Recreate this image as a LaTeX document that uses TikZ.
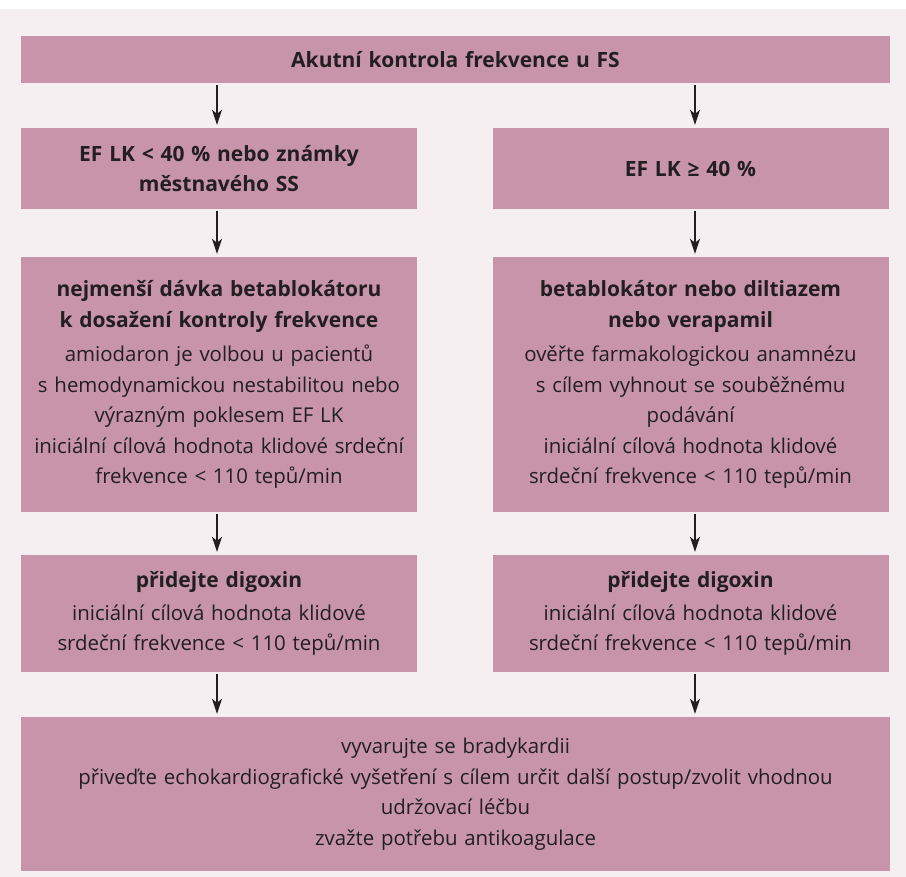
\documentclass[tikz,border=0pt]{standalone}
\usepackage{fontspec}
\setmainfont{Open Sans}
\newfontfamily\symf{DejaVu Sans}
\usetikzlibrary{arrows.meta,calc}
\definecolor{boxc}{RGB}{199,148,170}
\definecolor{bgc}{RGB}{245,239,242}
\definecolor{txtc}{RGB}{35,31,32}
\newcommand\geqsym{\iffontchar\font"2265 ≥\else{\symf ≥}\fi}
\newcommand\bt[1]{{\fontsize{21}{30.5}\selectfont\bfseries #1}}
\tikzset{
  flowbox/.style={fill=boxc, inner sep=0pt, text=txtc, align=center,
    font=\fontsize{20.4}{30.5}\selectfont},
  narrowbox/.style={flowbox, minimum width=396, text width=392},
  widebox/.style={flowbox, minimum width=869, text width=860},
  arr/.style={draw=txtc, line width=1.2pt,
    -{Stealth[length=15pt,width=10pt,inset=4pt]}, shorten <=1.5pt, shorten >=3pt}
}
\begin{document}
\begin{tikzpicture}[x=1pt,y=-1pt]
\useasboundingbox (0,0) rectangle (906,877);
\fill[white] (0,0) rectangle (906,877);
\fill[bgc] (0,9) rectangle (906,877);

\node[widebox, minimum height=47] (top) at (455.5,59.5)
  {\bt{Akutní kontrola frekvence u FS}};

\node[narrowbox, minimum height=81] (L2) at (219,168.5)
  {\bt{EF LK < 40 \% nebo známky}\\\bt{městnavého SS}};
\node[narrowbox, minimum height=81] (R2) at (690.5,168.5)
  {\bt{EF LK \geqsym{} 40 \%}};

\node[narrowbox, minimum height=255] (L3) at (219,384.5)
  {\bt{nejmenší dávka betablokátoru}\\\bt{k dosažení kontroly frekvence}\\[4pt]
   amiodaron je volbou u pacientů\\s hemodynamickou nestabilitou nebo\\výrazným poklesem EF LK\\
   iniciální cílová hodnota klidové srdeční\\frekvence < 110 tepů/min};
\node[narrowbox, minimum height=255] (R3) at (690.5,384.5)
  {\bt{betablokátor nebo diltiazem}\\\bt{nebo verapamil}\\[4pt]
   ověřte farmakologickou anamnézu\\s cílem vyhnout se souběžnému\\podávání\\
   iniciální cílová hodnota klidové\\srdeční frekvence < 110 tepů/min};

\node[narrowbox, minimum height=117] (L4) at (219,613.5)
  {\bt{přidejte digoxin}\\[2pt]iniciální cílová hodnota klidové\\srdeční frekvence < 110 tepů/min};
\node[narrowbox, minimum height=117] (R4) at (690.5,613.5)
  {\bt{přidejte digoxin}\\[2pt]iniciální cílová hodnota klidové\\srdeční frekvence < 110 tepů/min};

\node[widebox, minimum height=154] (B5) at (455.5,794)
  {vyvarujte se bradykardii\\přiveďte echokardiografické vyšetření s cílem určit další postup/zvolit vhodnou\\udržovací léčbu\\zvažte potřebu antikoagulace};

\draw[arr] ([xshift=-2pt]L2.north |- top.south) -- ([xshift=-2pt]L2.north);
\draw[arr] ([xshift=4.5pt]R2.north |- top.south) -- ([xshift=4.5pt]R2.north);
\draw[arr] ([xshift=-2pt]L2.south) -- ([xshift=-2pt]L3.north);
\draw[arr] ([xshift=4.5pt]R2.south) -- ([xshift=4.5pt]R3.north);
\draw[arr] ([xshift=-2pt]L3.south) -- ([xshift=-2pt]L4.north);
\draw[arr] ([xshift=4.5pt]R3.south) -- ([xshift=4.5pt]R4.north);
\draw[arr] ([xshift=-2pt]L4.south) -- ([xshift=-2pt]L4.south |- B5.north);
\draw[arr] ([xshift=4.5pt]R4.south) -- ([xshift=4.5pt]R4.south |- B5.north);
\end{tikzpicture}
\end{document}
